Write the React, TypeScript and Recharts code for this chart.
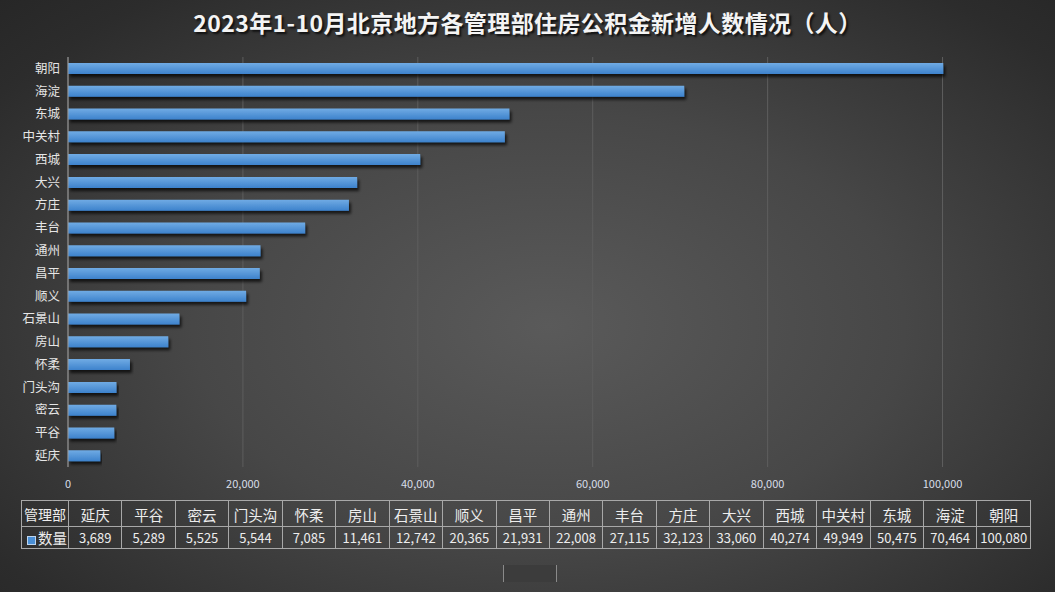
import React from 'react';
import { BarChart, Bar, XAxis, YAxis, CartesianGrid } from 'recharts';

// 管理部（按表格顺序，从下到上）
const managers = ['延庆', '平谷', '密云', '门头沟', '怀柔', '房山', '石景山', '顺义', '昌平', '通州', '丰台', '方庄', '大兴', '西城', '中关村', '东城', '海淀', '朝阳'];
// 新增人数
const counts = [3689, 5289, 5525, 5544, 7085, 11461, 12742, 20365, 21931, 22008, 27115, 32123, 33060, 40274, 49949, 50475, 70464, 100080];
const xTicks = [0, 20000, 40000, 60000, 80000, 100000];
const xMax = 110000;

const title = '2023年1-10月北京地方各管理部住房公积金新增人数情况（人）';
const seriesName = '数量';
const headerName = '管理部';

const data = managers.map((name, i) => ({ name, value: counts[i] }));

const FONT = '"Noto Sans CJK SC", "Noto Sans", sans-serif';
const fmt = (v: number) => v.toLocaleString('en-US');

const cellBorder = '1px solid #a8a8a8';

// grid lines only at the tick values (no line at the domain end)
const gridX = (props: any) => {
  const { xAxis, offset } = props;
  if (xAxis && typeof xAxis.scale === 'function') {
    return xTicks.map((t) => xAxis.scale(t));
  }
  return xTicks.map((t) => offset.left + (t / xMax) * offset.width);
};

export default function App() {
  const colW = (1030 - 68) / managers.length;
  return (
    <div
      style={{
        position: 'absolute',
        left: 0,
        top: 0,
        width: 1055,
        height: 592,
        overflow: 'hidden',
        fontFamily: FONT,
        background: 'radial-gradient(ellipse 75% 80% at 52% 55%, #5a5a5a 0%, #474747 45%, #2c2c2c 85%, #262626 100%)',
      }}
    >
      <div
        style={{
          position: 'absolute',
          top: 6,
          left: 0,
          width: 1055,
          textAlign: 'center',
          color: '#f4f4f4',
          fontSize: 23,
          letterSpacing: 0.4,
          fontWeight: 'bold',
          lineHeight: '32px',
          textShadow: '2px 2px 2px #111',
        }}
      >
        {title}
      </div>

      <BarChart
        width={1055}
        height={592}
        data={data}
        layout="vertical"
        margin={{ top: 57, right: 25, left: 8, bottom: 95 }}
        barCategoryGap={0}
        style={{ position: 'absolute', left: 0, top: 0 }}
      >
        <defs>
          <linearGradient id="barFill" x1="0" y1="0" x2="0" y2="1">
            <stop offset="0%" stopColor="#70abe4" />
            <stop offset="100%" stopColor="#3d82cc" />
          </linearGradient>
          <filter id="barShadow" x="-5%" y="-50%" width="110%" height="250%">
            <feDropShadow dx="2" dy="3" stdDeviation="1.5" floodColor="#000" floodOpacity="0.7" />
          </filter>
        </defs>
        <CartesianGrid
          horizontal={false}
          stroke="#5e5e5e"
          strokeWidth={1}
          verticalCoordinatesGenerator={gridX}
        />
        <XAxis
          type="number"
          domain={[0, xMax]}
          ticks={xTicks}
          tickFormatter={fmt}
          axisLine={false}
          tickLine={false}
          tickMargin={7}
          height={30}
          tick={{ fill: '#d8dee8', fontSize: 11, fontFamily: FONT }}
        />
        <YAxis
          type="category"
          dataKey="name"
          reversed
          width={60}
          interval={0}
          tickLine={false}
          axisLine={{ stroke: '#9a9a9a' }}
          tick={{ fill: '#e6e6e6', fontSize: 12.5, fontFamily: FONT }}
        />
        <Bar
          dataKey="value"
          name={seriesName}
          barSize={11}
          fill="url(#barFill)"
          filter="url(#barShadow)"
          isAnimationActive={false}
        />
      </BarChart>

      <table
        style={{
          position: 'absolute',
          left: 21,
          top: 500,
          borderCollapse: 'collapse',
          tableLayout: 'fixed',
          width: 47 + colW * managers.length,
          color: '#ededed',
          fontFamily: FONT,
        }}
      >
        <colgroup>
          <col style={{ width: 47 }} />
          {managers.map((m) => (
            <col key={m} style={{ width: colW }} />
          ))}
        </colgroup>
        <tbody>
          <tr style={{ height: 26 }}>
            <td style={{ border: cellBorder, fontSize: 14, textAlign: 'center', padding: 0, whiteSpace: 'nowrap' }}>
              {headerName}
            </td>
            {managers.map((m) => (
              <td
                key={m}
                style={{ border: cellBorder, fontSize: 14.5, textAlign: 'center', padding: '2px 0 0 0', whiteSpace: 'nowrap' }}
              >
                {m}
              </td>
            ))}
          </tr>
          <tr style={{ height: 21 }}>
            <td style={{ border: cellBorder, fontSize: 14.5, padding: 0, whiteSpace: 'nowrap', textAlign: 'right', paddingRight: 1 }}>
              <span
                style={{
                  display: 'inline-block',
                  width: 7,
                  height: 7,
                  background: '#4a8fd6',
                  border: '1px solid #bcd4ee',
                  marginRight: 2,
                  verticalAlign: 'middle',
                }}
              />
              {seriesName}
            </td>
            {counts.map((c, i) => (
              <td
                key={managers[i]}
                style={{ border: cellBorder, fontSize: 13, textAlign: 'center', padding: 0, whiteSpace: 'nowrap' }}
              >
                {fmt(c)}
              </td>
            ))}
          </tr>
        </tbody>
      </table>

      <div
        style={{
          position: 'absolute',
          left: 503,
          top: 565,
          width: 52,
          height: 17,
          background: '#3c3c3c',
          borderLeft: '1px solid #8a8a8a',
          borderRight: '1px solid #8a8a8a',
        }}
      />
    </div>
  );
}
